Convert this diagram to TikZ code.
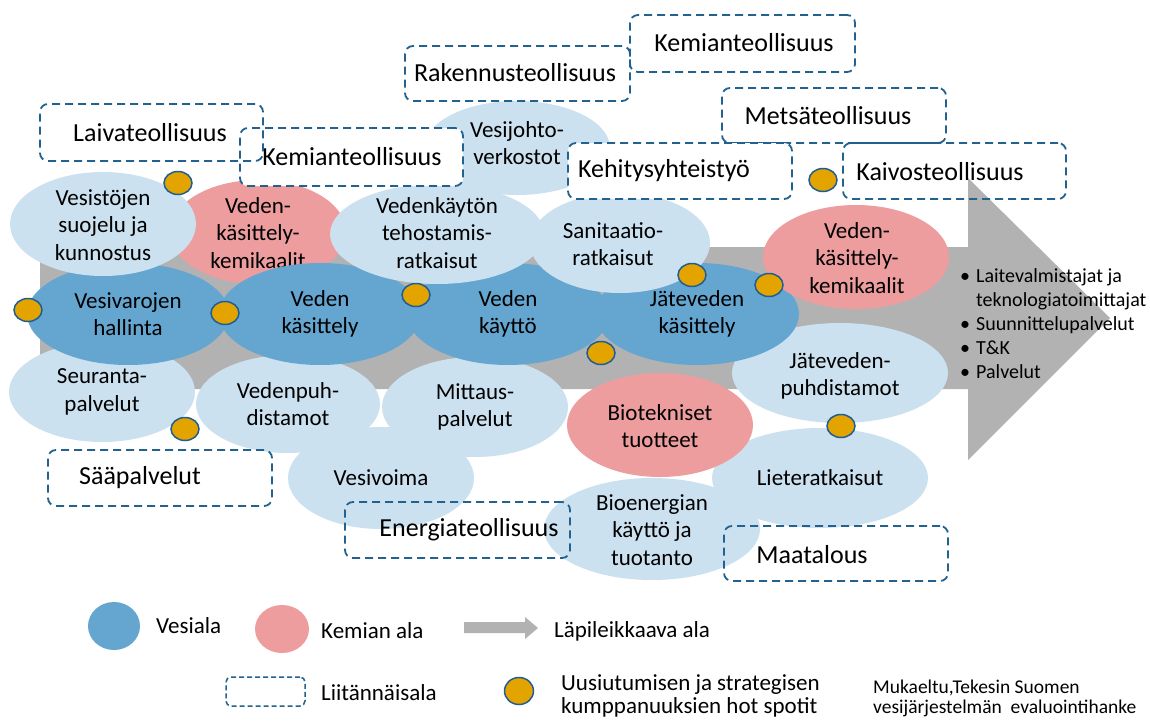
\documentclass[tikz,border=0pt]{standalone}
\usepackage{fontspec}
\setmainfont{Carlito}
\usetikzlibrary{shapes.geometric}
\definecolor{dblue}{HTML}{65A6D1}
\definecolor{lblue}{HTML}{CCE1EF}
\definecolor{pinkc}{HTML}{EE9D9F}
\definecolor{grayc}{HTML}{B2B2B2}
\definecolor{dashc}{HTML}{23628F}
\definecolor{dotc}{HTML}{E3A400}
\definecolor{dotb}{HTML}{1F5E92}
\begin{document}
\begin{tikzpicture}[x=1pt,y=-1pt,
  ell/.style={ellipse, inner sep=0pt, draw=none},
  wh/.style 2 args={minimum width=#1pt, minimum height=#2pt},
  lbe/.style={ell, fill=lblue},
  dbe/.style={ell, fill=dblue},
  pke/.style={ell, fill=pinkc},
  etxt/.style={align=center, inner sep=0pt, font=\fontsize{23}{27.5}\selectfont},
  sbox/.style={rectangle, draw=dashc, line width=1.8pt, dash pattern=on 8pt off 5pt, rounded corners=8pt, inner sep=0pt},
  btxt/.style={inner sep=0pt, font=\fontsize{26}{30}\selectfont},
  hot/.style={ellipse, fill=dotc, draw=dotb, line width=1.5pt, minimum width=28pt, minimum height=23pt, inner sep=0pt},
  ltxt/.style={inner sep=0pt, anchor=west, align=left, font=\fontsize{23}{23}\selectfont},
]
\useasboundingbox (0,0) rectangle (1150,720);
\fill[white] (0,0) rectangle (1150,720);

% cross-cutting arrow
\fill[grayc] (40,247) -- (968,247) -- (968,178) -- (1110,318) -- (968,460) -- (968,389) -- (40,389) -- cycle;

% lower light ellipses
\node[lbe, wh={186}{100}] (seuranta) at (102,392) {};
\node[etxt] (seurantaT) at (102,392) {Seuranta-\\palvelut};
\node[lbe, wh={184}{98}] (vedenpuh) at (288,404) {};
\node[etxt] (vedenpuhT) at (288,404) {Vedenpuh-\\distamot};
\node[lbe, wh={186}{102}] (vesivoima) at (381,478) {};
\node[etxt] (vesivoimaT) at (381,478) {Vesivoima};
\node[lbe, wh={186}{100}] (mittaus) at (475,407) {};
\node[etxt] (mittausT) at (475,407) {Mittaus-\\palvelut};
\node[lbe, wh={216}{102}] (bioen) at (652,529) {};
\node[etxt] (bioenT) at (652,530) {Bioenergian\\käyttö ja\\tuotanto};
\node[lbe, wh={216}{100}] (liete) at (820,478) {};
\node[etxt] (lieteT) at (820,478) {Lieteratkaisut};
\node[lbe, wh={216}{100}] (jatepuh) at (840,373) {};
\node[etxt] (jatepuhT) at (840,376) {Jäteveden-\\puhdistamot};
\node[pke, wh={186}{104}] (biotek) at (660,425) {};
\node[etxt] (biotekT) at (660,426) {Biotekniset\\tuotteet};

% pink left
\node[pke, wh={176}{104}] (kemL) at (258,232) {};
\node[etxt] (kemLT) at (258,233) {Veden-\\käsittely-\\kemikaalit};

% dark blue core
\node[dbe, wh={202}{102}] (vesivarojen) at (128,314) {};
\node[etxt] (vesivarojenT) at (128,314) {Vesivarojen\\hallinta};
\node[dbe, wh={202}{102}] (kasittely) at (320,314) {};
\node[etxt] (kasittelyT) at (320,314) {Veden\\käsittely};
\node[dbe, wh={202}{102}] (kaytto) at (508,314) {};
\node[etxt] (kayttoT) at (508,314) {Veden\\käyttö};
\node[dbe, wh={204}{102}] (jatekas) at (697,314) {};
\node[etxt] (jatekasT) at (697,314) {Jäteveden\\käsittely};

% upper light ellipses
\node[lbe, wh={186}{94}] (vesijohto) at (517,148) {};
\node[etxt] (vesijohtoT) at (517,143) {Vesijohto-\\verkostot};
\node[lbe, wh={214}{100}] (tehost) at (437,234) {};
\node[etxt] (tehostT) at (437,233) {Vedenkäytön\\tehostamis-\\ratkaisut};
\node[lbe, wh={180}{100}] (sanit) at (620,243) {};
\node[etxt] (sanitT) at (613,244) {Sanitaatio-\\ratkaisut};
\node[lbe, wh={186}{104}] (vesisto) at (103,224) {};
\node[etxt] (vesistoT) at (103,225) {Vesistöjen\\suojelu ja\\kunnostus};

% pink right
\node[pke, wh={186}{104}] (kemR) at (856,257) {};
\node[etxt] (kemRT) at (857,258) {Veden-\\käsittely-\\kemikaalit};

% related sectors (dashed boxes)
\node[sbox, fill=white, minimum width=223pt, minimum height=58pt] (kemiaL) at (351.5,157) {};
\node[btxt] (kemiaLT) at (352,157) {Kemianteollisuus};
\node[sbox, minimum width=223pt, minimum height=57pt] (laiva) at (151.5,132.5) {};
\node[btxt] (laivaT) at (150,133) {Laivateollisuus};
\node[sbox, minimum width=225pt, minimum height=55pt] (rakennus) at (517.5,73.5) {};
\node[btxt] (rakennusT) at (515,73) {Rakennusteollisuus};
\node[sbox, minimum width=225pt, minimum height=57pt] (kemiaT) at (742.5,43.5) {};
\node[btxt] (kemiaTT) at (744,43) {Kemianteollisuus};
\node[sbox, minimum width=224pt, minimum height=55pt] (metsa) at (834,115.5) {};
\node[btxt] (metsaT) at (828,116) {Metsäteollisuus};
\node[sbox, fill=white, minimum width=224pt, minimum height=56pt] (kehitys) at (680,171) {};
\node[btxt] (kehitysT) at (664,171) {Kehitysyhteistyö};
\node[sbox, minimum width=223pt, minimum height=56pt] (kaivos) at (954.5,171) {};
\node[btxt] (kaivosT) at (940,172) {Kaivosteollisuus};
\node[sbox, minimum width=224pt, minimum height=56pt] (saa) at (160,478) {};
\node[btxt] (saaT) at (140,478) {Sääpalvelut};
\node[sbox, minimum width=225pt, minimum height=56pt] (energia) at (457.5,530) {};
\node[btxt] (energiaT) at (469,530) {Energiateollisuus};
\node[sbox, minimum width=224pt, minimum height=55pt] (maatalous) at (836,553.5) {};
\node[btxt] (maatalousT) at (812,555) {Maatalous};

% hot spots
\node[hot] (h1) at (178,183) {};
\node[hot] (h2) at (28,310) {};
\node[hot] (h3) at (225,313) {};
\node[hot] (h4) at (416,295) {};
\node[hot] (h5) at (601,353) {};
\node[hot] (h6) at (692,275) {};
\node[hot] (h7) at (769,285) {};
\node[hot] (h8) at (823,180) {};
\node[hot] (h9) at (185,429) {};
\node[hot] (h10) at (841,426) {};

% bullet list
\node[inner sep=0pt, anchor=base west, font=\fontsize{20}{24}\selectfont] (bullets) at (960,282)
  {\begin{tabular}[t]{@{}l@{\hspace{6pt}}l@{}}
   • & Laitevalmistajat ja\\
     & teknologiatoimittajat\\
   • & Suunnittelupalvelut\\
   • & T\&K\\
   • & Palvelut
  \end{tabular}};

% legend
\node[dbe, wh={52}{48}] (legV) at (114,626) {};
\node[ltxt] (legVT) at (156,626) {Vesiala};
\node[pke, wh={54}{48}] (legK) at (282,629) {};
\node[ltxt] (legKT) at (321,631) {Kemian ala};
\fill[grayc] (464,622) -- (525,622) -- (525,617) -- (538,628) -- (525,639) -- (525,633) -- (464,633) -- cycle;
\node[ltxt] (legAT) at (554,631) {Läpileikkaava ala};
\node[sbox, minimum width=79pt, minimum height=29pt, line width=1.5pt, dash pattern=on 5pt off 3pt, rounded corners=5pt] (legB) at (265.5,691.5) {};
\node[ltxt] (legBT) at (321,693) {Liitännäisala};
\node[hot, minimum width=29pt, minimum height=27pt] (legH) at (519,691) {};
\node[ltxt] (legHT) at (561,696) {Uusiutumisen ja strategisen\\kumppanuuksien hot spotit};
\node[ltxt, font=\fontsize{19.5}{20}\selectfont] (source) at (873,698) {Mukaeltu,Tekesin Suomen\\vesijärjestelmän\ \ evaluointihanke};
\end{tikzpicture}
\end{document}
